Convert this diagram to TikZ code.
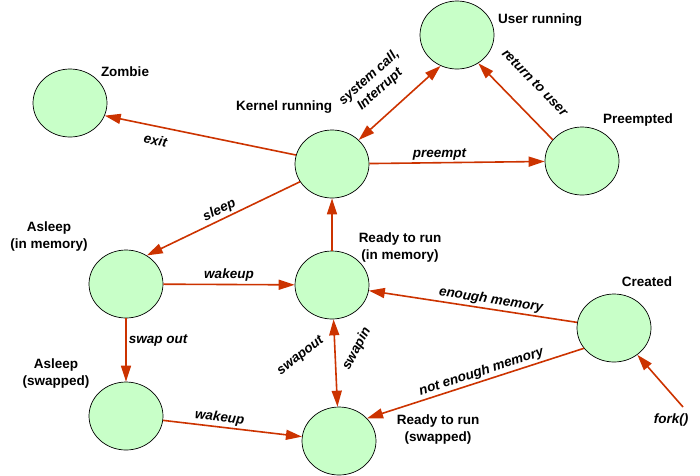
\documentclass[tikz,border=0pt]{standalone}
\usepackage{fontspec}
\setmainfont{Liberation Sans}
\usetikzlibrary{shapes.geometric,arrows.meta}
\definecolor{stateFill}{RGB}{200,255,200}
\definecolor{arrowRed}{RGB}{204,51,0}
\begin{document}
\begin{tikzpicture}
[x=1pt,y=1pt,
  nodeDecorate/.style={shape=ellipse,minimum width=74pt,minimum height=68pt,draw=black,fill=stateFill,line width=0.7pt},%
  textDecorate/.style={font=\fontsize{13.5}{17}\selectfont\bfseries,align=center,inner sep=0pt},%
  edgeText/.style={font=\fontsize{13.5}{16}\selectfont\bfseries\itshape,align=center,inner sep=2pt},%
  lineDecorate/.style={-{Triangle[length=16pt,width=10pt]},draw=arrowRed,line width=1.6pt},
  bothDecorate/.style={{Triangle[length=16pt,width=10pt]}-{Triangle[length=16pt,width=10pt]},draw=arrowRed,line width=1.6pt}]
\useasboundingbox (0,0) rectangle (700,-475);
%% nodes or vertices
\foreach \nodename/\x/\y in {user/457/35, zombie/70/103, kernel/332/164, preempted/582/161,
  asleepMem/126/284, readyMem/332/285, asleepSwap/126/416, readySwap/339/441, created/614/328} {
  \node (\nodename) at (\x,-\y) [nodeDecorate] {};
}
%% state names
\foreach \nodename/\x/\y/\txt in {userText/540/20/{User running}, zombieText/125/72/{Zombie},
  kernelText/284/107/{Kernel running}, preemptedText/638/120/{Preempted},
  asleepMemText/49/236/{Asleep\\(in memory)}, readyMemText/400/247/{Ready to run\\(in memory)},
  asleepSwapText/56/373/{Asleep\\(swapped)}, readySwapText/438/429/{Ready to run\\(swapped)},
  createdText/647/282/{Created}} {
  \node (\nodename) at (\x,-\y) [textDecorate] {\txt};
}
\node (fork) at (671,-420) [edgeText,inner sep=0pt] {fork()};
\coordinate (forkStart) at (683,-407);
%% edges or lines
\path
  (kernel.166) edge[lineDecorate] node[pos=0.72,sloped,below=6pt,edgeText] {exit} (zombie.340)
  (kernel.42) edge[bothDecorate] node[pos=0.45,sloped,above=14pt,edgeText] {system call,\\Interrupt} (user.242)
  (preempted.144) edge[lineDecorate] node[pos=0.5,sloped,above=20pt,edgeText] {return to user} (user.307)
  (kernel) edge[lineDecorate] node[pos=0.4,above,edgeText] {preempt} (preempted)
  (kernel.209) edge[lineDecorate] node[sloped,above,edgeText] {sleep} (asleepMem.54)
  (readyMem) edge[lineDecorate] (kernel)
  (asleepMem) edge[lineDecorate] node[above,edgeText] {wakeup} (readyMem)
  (asleepMem) edge[lineDecorate] node[pos=0.35,right,edgeText] {swap out} (asleepSwap)
  (readyMem) edge[bothDecorate] node[pos=0.24,rotate=38,anchor=south east,xshift=-6pt,edgeText] {swapout}
                                node[pos=0.57,rotate=62,anchor=north west,xshift=2pt,edgeText] {swapin} (readySwap)
  (created) edge[lineDecorate] node[pos=0.42,sloped,above,edgeText] {enough memory} (readyMem)
  (created.214) edge[lineDecorate] node[pos=0.46,sloped,above,edgeText] {not enough memory} (readySwap.39)
  (asleepSwap) edge[lineDecorate] node[pos=0.4,sloped,above,edgeText] {wakeup} (readySwap)
  (forkStart) edge[lineDecorate] (created.311);
\end{tikzpicture}
\end{document}
